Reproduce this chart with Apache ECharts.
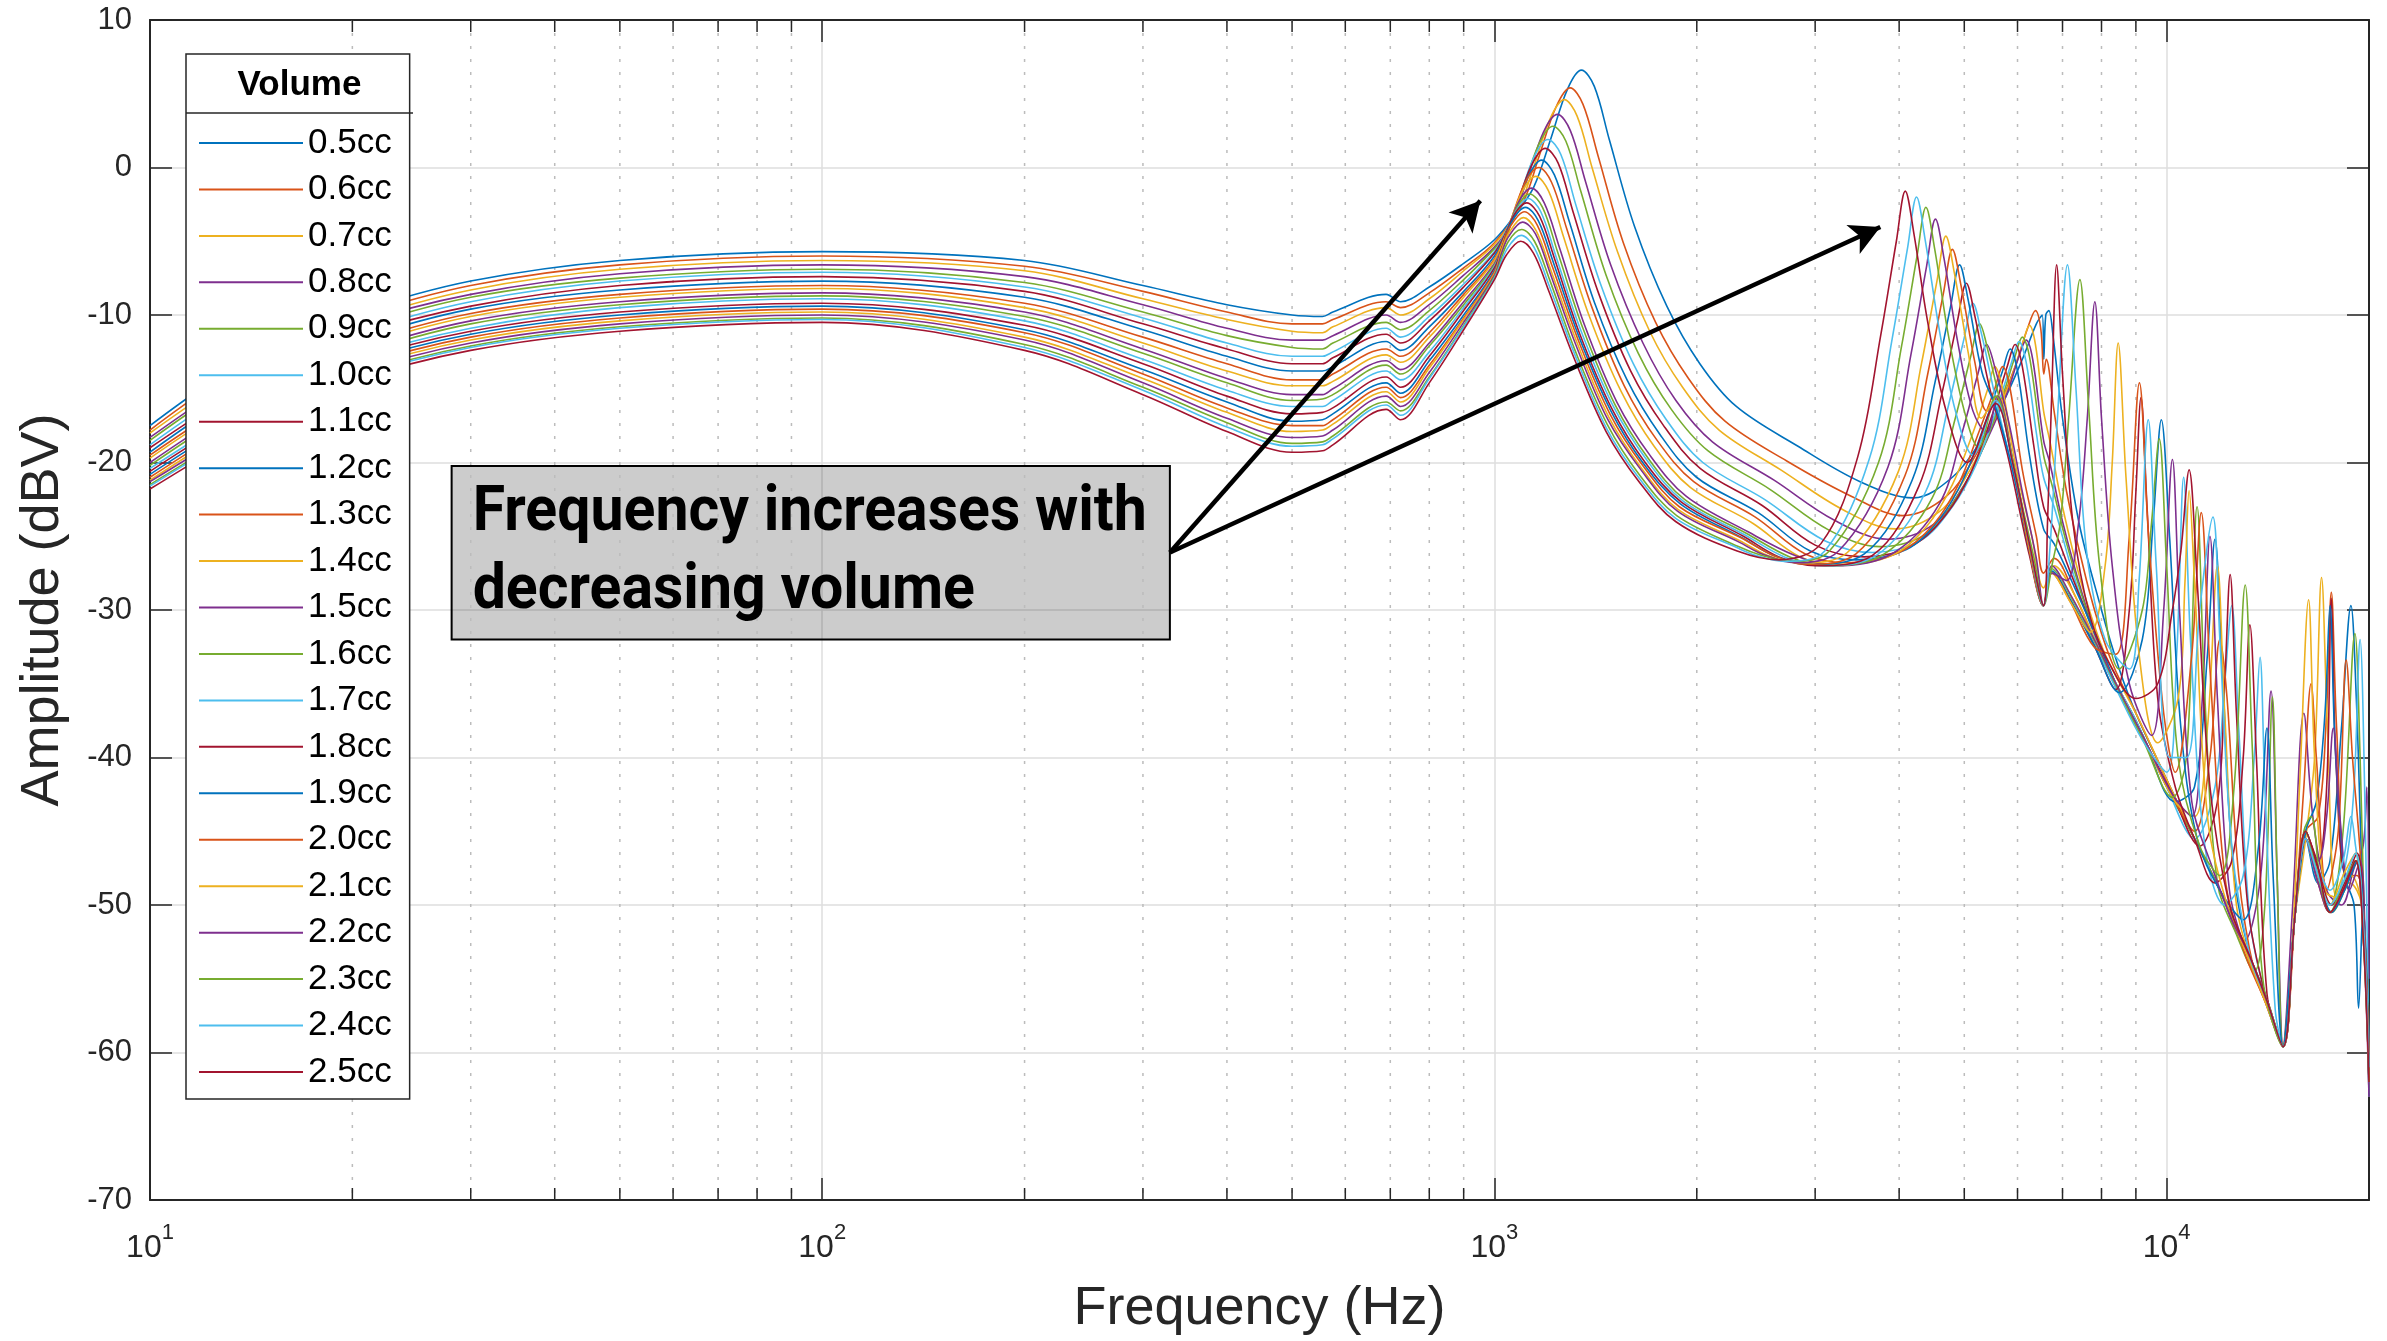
<!DOCTYPE html>
<html>

<head>
    <meta charset="utf-8">
    <title>Volume sweep</title>
    <style>
        html, body { margin: 0; padding: 0; background: #fff; }
        #main { width: 2387px; height: 1341px; }
    </style>
</head>

<body>
    <div id="main"></div>
    <script src="https://cdn.jsdelivr.net/npm/echarts@6.0.0/dist/echarts.min.js"></script>
    <script>
    // legend names and MATLAB default colour order
    var volumes = ['0.5cc', '0.6cc', '0.7cc', '0.8cc', '0.9cc', '1.0cc', '1.1cc', '1.2cc', '1.3cc', '1.4cc', '1.5cc',
        '1.6cc', '1.7cc', '1.8cc', '1.9cc', '2.0cc', '2.1cc', '2.2cc', '2.3cc', '2.4cc', '2.5cc'];
    var colors = ['#0072BD', '#D95319', '#EDB120', '#7E2F8E', '#77AC30', '#4DBEEE', '#A2142F'];

    // shared low frequency points (Hz)
    var lowFreq = [10, 12, 15, 20, 30, 50, 100, 200, 300, 400, 500, 555, 575, 690, 725, 800, 900];

    // amplitude (dBV) at lowFreq, one list per volume
    var lo05 = [-17.5, -14.9, -12.2, -9.9, -7.7, -6.3, -5.7, -6.3, -8.0, -9.3, -10.0, -10.1, -9.8, -8.6, -9.1, -8.1, -6.5];
    var lo06 = [-17.8, -15.2, -12.5, -10.2, -8.0, -6.6, -6.0, -6.7, -8.4, -9.8, -10.6, -10.6, -10.3, -9.1, -9.5, -8.5, -6.8];
    var lo07 = [-18.0, -15.5, -12.8, -10.5, -8.3, -6.9, -6.3, -7.0, -8.9, -10.3, -11.1, -11.2, -10.8, -9.5, -10.0, -8.9, -7.0];
    var lo08 = [-18.3, -15.8, -13.1, -10.7, -8.6, -7.2, -6.6, -7.4, -9.3, -10.9, -11.7, -11.7, -11.4, -10.0, -10.5, -9.3, -7.3];
    var lo09 = [-18.5, -16.0, -13.4, -11.0, -8.8, -7.5, -6.9, -7.8, -9.8, -11.4, -12.2, -12.3, -11.9, -10.5, -11.0, -9.7, -7.6];
    var lo10 = [-18.8, -16.3, -13.6, -11.3, -9.1, -7.7, -7.1, -8.1, -10.2, -11.9, -12.8, -12.8, -12.5, -10.9, -11.5, -10.1, -7.9];
    var lo11 = [-19.0, -16.6, -13.9, -11.5, -9.4, -8.0, -7.4, -8.4, -10.6, -12.3, -13.3, -13.3, -12.9, -11.3, -11.9, -10.4, -8.1];
    var lo12 = [-19.3, -16.8, -14.2, -11.8, -9.6, -8.3, -7.7, -8.8, -11.0, -12.8, -13.8, -13.8, -13.5, -11.8, -12.4, -10.8, -8.4];
    var lo13 = [-19.5, -17.1, -14.5, -12.1, -9.9, -8.6, -8.0, -9.2, -11.5, -13.3, -14.4, -14.4, -14.0, -12.3, -12.8, -11.2, -8.6];
    var lo14 = [-19.7, -17.3, -14.7, -12.3, -10.1, -8.8, -8.2, -9.5, -11.9, -13.8, -14.8, -14.8, -14.5, -12.7, -13.2, -11.5, -8.8];
    var lo15 = [-20.0, -17.6, -15.0, -12.6, -10.4, -9.1, -8.5, -9.8, -12.3, -14.3, -15.4, -15.4, -15.0, -13.1, -13.7, -11.9, -9.1];
    var lo16 = [-20.2, -17.8, -15.2, -12.8, -10.6, -9.3, -8.7, -10.1, -12.6, -14.6, -15.8, -15.7, -15.4, -13.4, -14.0, -12.1, -9.3];
    var lo17 = [-20.4, -18.1, -15.4, -13.0, -10.9, -9.5, -8.9, -10.4, -13.0, -15.1, -16.2, -16.2, -15.8, -13.8, -14.4, -12.5, -9.5];
    var lo18 = [-20.6, -18.3, -15.7, -13.2, -11.1, -9.8, -9.2, -10.7, -13.3, -15.5, -16.7, -16.6, -16.3, -14.2, -14.9, -12.8, -9.7];
    var lo19 = [-20.8, -18.5, -15.9, -13.4, -11.3, -10.0, -9.4, -11.0, -13.7, -15.9, -17.2, -17.1, -16.7, -14.6, -15.3, -13.1, -10.0];
    var lo20 = [-21.0, -18.7, -16.1, -13.6, -11.5, -10.2, -9.6, -11.2, -14.0, -16.3, -17.5, -17.5, -17.1, -14.9, -15.6, -13.4, -10.2];
    var lo21 = [-21.2, -18.9, -16.3, -13.8, -11.7, -10.4, -9.8, -11.5, -14.3, -16.6, -17.9, -17.8, -17.4, -15.2, -15.9, -13.6, -10.3];
    var lo22 = [-21.3, -19.1, -16.5, -14.0, -11.9, -10.6, -10.0, -11.7, -14.6, -17.0, -18.3, -18.2, -17.8, -15.5, -16.2, -13.9, -10.5];
    var lo23 = [-21.5, -19.3, -16.7, -14.2, -12.1, -10.8, -10.2, -12.0, -14.9, -17.3, -18.7, -18.6, -18.2, -15.9, -16.5, -14.2, -10.7];
    var lo24 = [-21.6, -19.4, -16.8, -14.3, -12.2, -10.9, -10.3, -12.2, -15.1, -17.6, -18.9, -18.8, -18.4, -16.1, -16.8, -14.3, -10.8];
    var lo25 = [-21.8, -19.6, -17.0, -14.5, -12.4, -11.1, -10.5, -12.4, -15.4, -17.9, -19.3, -19.2, -18.8, -16.4, -17.1, -14.6, -11.0];

    // [frequency (Hz), amplitude (dBV)] from 1 kHz up, one list per volume
    var hi05 = [[1000,-4.9],[1078,-3.1],[1145,-1.3],[1212,1.9],[1284,5.3],[1347,6.6],[1408,5.5],[1482,1.9],[1616,-4.0],[1805,-9.4],[2021,-13.3],[2290,-16.2],[2829,-18.9],[3500,-21.3],[4200,-22.4],[4800,-21.0],[5300,-18.5],[5700,-16.0],[6100,-13.0],[6400,-10.6],[6530,-10.0],[6565,-13.0],[6610,-10.0],[6680,-9.7],[6780,-11.5],[7000,-17],[7400,-24],[8000,-30],[8500,-34],[9000,-37],[10000,-41.5],[11000,-45.5],[12000,-49],[13000,-52.5],[14000,-56],[14900,-59.5],[15500,-51],[16100,-45.5],[16800,-48.5],[17500,-47],[18200,-38],[18800,-29.7],[19150,-36],[19500,-47],[19800,-54],[20000,-62]];
    var hi06 = [[1000,-5.1],[1102,-2.4],[1166,0.8],[1235,4.1],[1296,5.4],[1354,4.3],[1426,0.8],[1555,-5.1],[1737,-10.5],[1944,-14.3],[2203,-17.2],[2722,-19.9],[3400,-22.3],[4050,-23.6],[4700,-22.3],[5200,-19.5],[5600,-16.5],[5950,-13.5],[6200,-11.0],[6380,-9.7],[6500,-11.0],[6565,-14],[6620,-13],[6800,-16.5],[7100,-22],[7600,-28],[8200,-33],[9000,-37],[10000,-41.5],[11000,-45.5],[12000,-49],[13000,-52.5],[14000,-56],[14900,-59.5],[15500,-51],[16100,-45],[16800,-44],[17250,-38],[17580,-28.8],[17900,-38],[18500,-48],[19200,-48],[19700,-52],[20000,-61]];
    var hi07 = [[1000,-5.2],[1080,-3.1],[1143,0.0],[1210,3.3],[1270,4.6],[1327,3.5],[1397,0.0],[1524,-5.7],[1702,-11.1],[1905,-14.9],[2159,-17.8],[2667,-20.5],[3300,-23.2],[3950,-24.5],[4600,-23.3],[5100,-20.5],[5500,-17.5],[5850,-14.5],[6100,-12.0],[6250,-10.7],[6380,-12.0],[6560,-16.5],[6700,-18.5],[7000,-23],[7500,-28.5],[8100,-33],[9000,-37],[10000,-41.5],[11000,-45.5],[12000,-49],[13000,-52.5],[14000,-56],[14900,-59.5],[15500,-51],[16100,-45.5],[16600,-40],[17000,-27.8],[17350,-38],[17900,-49.5],[18700,-48.5],[19500,-50],[20000,-63]];
    var hi08 = [[1000,-5.4],[1055,-3.9],[1117,-0.9],[1183,2.4],[1241,3.6],[1297,2.5],[1365,-0.9],[1489,-6.6],[1663,-11.9],[1862,-15.8],[2110,-18.6],[2606,-21.2],[3200,-23.9],[3850,-25.2],[4500,-24.2],[5000,-21.5],[5400,-18.5],[5800,-15.2],[6030,-12.8],[6180,-11.7],[6320,-13.0],[6560,-18.5],[6700,-20],[7000,-24],[7500,-29],[8100,-33.5],[9000,-37.5],[10000,-42],[11000,-45.5],[12000,-49],[13000,-52.5],[13800,-48],[14300,-35.5],[14600,-48],[14900,-59.5],[15400,-50],[16000,-37],[16500,-44],[17300,-49],[18200,-50],[19000,-47.5],[19600,-46],[19850,-42],[20000,-55]];
    var hi09 = [[1000,-5.5],[1039,-4.5],[1100,-1.6],[1165,1.6],[1222,2.8],[1277,1.8],[1344,-1.6],[1466,-7.3],[1637,-12.6],[1833,-16.4],[2077,-19.2],[2566,-21.8],[3150,-24.6],[3750,-25.7],[4400,-24.8],[4900,-22.2],[5300,-19.3],[5700,-15.5],[5950,-12.8],[6100,-11.5],[6250,-12.8],[6560,-19.5],[6750,-21.5],[7100,-25.5],[7600,-30],[8200,-34],[9000,-37.5],[10000,-42],[11000,-45.5],[12000,-49],[13000,-52.5],[14000,-56],[14900,-59.5],[15500,-51],[16100,-45.5],[16800,-48.5],[17500,-50],[18300,-45],[19060,-31.6],[19400,-40],[19700,-52],[20000,-62]];
    var hi10 = [[1000,-5.7],[1040,-4.3],[1081,-2.5],[1145,0.7],[1201,1.9],[1255,0.9],[1321,-2.5],[1441,-8.0],[1609,-13.3],[1802,-17.1],[2042,-20.0],[2522,-22.5],[3100,-25.3],[3650,-26.1],[4300,-25.3],[4800,-23],[5200,-20.2],[5600,-16.2],[5880,-13.2],[6030,-11.8],[6180,-13.2],[6400,-18],[6560,-21],[6800,-23],[7200,-27],[7700,-31],[8300,-34.5],[9000,-37.5],[10000,-42],[11000,-45.5],[11800,-42],[12200,-35],[12500,-29.7],[12800,-38],[13300,-51],[14000,-56],[14900,-59.5],[15500,-51],[16100,-45.5],[16800,-48.5],[17600,-50],[18500,-47],[19000,-42],[19400,-32],[19700,-42],[20000,-60]];
    var hi11 = [[1000,-5.8],[1035,-4.6],[1071,-3.0],[1134,0.1],[1190,1.3],[1244,0.3],[1309,-3.0],[1428,-8.5],[1595,-13.8],[1785,-17.5],[2023,-20.4],[2499,-22.9],[3000,-25.6],[3550,-26.4],[4200,-25.6],[4700,-23.5],[5100,-20.8],[5500,-16.8],[5800,-13.4],[5950,-12.0],[6100,-13.5],[6350,-19],[6560,-23],[6800,-24.5],[7200,-27.5],[7800,-31.5],[8400,-35],[9200,-38.5],[10200,-42.5],[11200,-46],[11900,-43],[12200,-35],[12430,-27.6],[12700,-37],[13200,-50],[14000,-56],[14900,-59.5],[15500,-51],[16100,-45],[16800,-47],[17300,-42],[17580,-29.2],[17850,-40],[18500,-48],[19300,-47],[19700,-52],[20000,-61]];
    var hi12 = [[1000,-6.0],[1058,-3.7],[1120,-0.7],[1175,0.5],[1228,-0.5],[1293,-3.7],[1410,-9.2],[1575,-14.4],[1763,-18.1],[1998,-21.0],[2468,-23.4],[2950,-26.0],[3450,-26.6],[4100,-25.9],[4600,-23.8],[5000,-21],[5400,-17],[5700,-13.8],[5850,-12.3],[6000,-13.8],[6250,-19.5],[6560,-24.5],[6800,-25.5],[7300,-28.5],[7900,-32],[8500,-35.5],[9300,-39],[10300,-43],[11000,-42],[11500,-33],[11800,-25.2],[12100,-34],[12600,-48],[13500,-54.5],[14200,-57],[14900,-59.5],[15500,-51],[16100,-45],[16700,-43],[17200,-37],[17500,-29.7],[17800,-39],[18400,-48],[19000,-50],[19300,-57],[19600,-50],[20000,-60]];
    var hi13 = [[1000,-6.2],[1048,-4.1],[1109,-1.1],[1164,0.0],[1216,-1.0],[1280,-4.1],[1397,-9.5],[1560,-14.8],[1746,-18.5],[1979,-21.3],[2444,-23.7],[2900,-26.2],[3350,-26.8],[4000,-26.1],[4500,-24.2],[4900,-21.5],[5250,-18],[5550,-15],[5700,-13.5],[5850,-15],[6100,-20.5],[6400,-25],[6560,-27.5],[6800,-26.5],[7300,-29],[7900,-32.5],[8500,-35.5],[9300,-39],[10300,-43],[11000,-45],[11600,-40],[12000,-32],[12300,-36],[12800,-48],[13500,-54.5],[14200,-57],[14900,-59.5],[15500,-51],[16000,-42],[16400,-35],[16700,-40],[17300,-49],[18000,-45],[18500,-33.4],[18900,-40],[19500,-48],[20000,-62]];
    var hi14 = [[1000,-6.3],[1037,-4.7],[1098,-1.7],[1152,-0.6],[1204,-1.6],[1267,-4.7],[1382,-10.0],[1544,-15.2],[1728,-18.9],[1958,-21.7],[2419,-24.1],[2850,-26.4],[3250,-26.9],[3900,-26.3],[4400,-24.3],[4800,-21.5],[5150,-18],[5420,-15],[5550,-13.5],[5700,-15],[5950,-20],[6300,-25],[6560,-28.5],[6800,-27],[7300,-29],[7900,-32.5],[8500,-35.5],[9300,-39],[10300,-43],[11000,-44],[11500,-38],[11900,-27],[12200,-37],[12700,-50],[13500,-54.5],[14200,-57],[14900,-59.5],[15400,-52],[15800,-41],[16260,-29.3],[16600,-40],[17200,-49],[18000,-49.5],[18800,-48],[19500,-50],[20000,-63]];
    var hi15 = [[1000,-6.5],[1040,-4.8],[1082,-2.5],[1135,-1.4],[1186,-2.4],[1249,-5.4],[1362,-10.7],[1521,-15.9],[1703,-19.5],[1930,-22.3],[2384,-24.7],[2800,-26.3],[3200,-27.0],[3900,-26.2],[4590,-22.8],[4968,-17.9],[5238,-14.0],[5400,-12.0],[5562,-13.7],[5832,-17.4],[6100,-22],[6400,-26.5],[6560,-29.7],[6750,-27],[7200,-29],[7800,-32],[8400,-35],[9200,-38.5],[10200,-42.5],[10900,-44],[11300,-36],[11600,-25],[11900,-36],[12400,-49],[13200,-53.5],[14000,-56.5],[14900,-59.6],[15500,-51],[16100,-45.5],[16800,-47],[17300,-44],[17700,-38],[18100,-44],[18700,-49],[19400,-47],[19800,-55],[20000,-62]];
    var hi16 = [[1000,-6.6],[1040,-4.9],[1075,-2.9],[1128,-1.8],[1179,-2.7],[1241,-5.7],[1354,-10.9],[1512,-16.1],[1692,-19.7],[1918,-22.5],[2369,-24.8],[2750,-26.4],[3100,-27.0],[3800,-26.2],[4480,-22.4],[4848,-17.0],[5112,-12.8],[5270,-10.6],[5428,-12.5],[5692,-16.5],[6000,-21.5],[6350,-26.5],[6560,-29.7],[6750,-27.2],[7200,-29.2],[7800,-32.2],[8400,-35.2],[9200,-38.7],[10200,-42.7],[10700,-40],[11100,-23],[11400,-36],[11900,-48.5],[12700,-52],[13500,-54.5],[14000,-50],[14370,-35.9],[14600,-48],[14900,-59.6],[15500,-51],[16000,-45],[16400,-44],[17000,-49],[17600,-50.5],[18400,-49],[19200,-47],[19700,-52],[20000,-61]];
    var hi17 = [[1000,-6.7],[1035,-5.0],[1069,-3.2],[1122,-2.1],[1172,-3.0],[1234,-6.0],[1346,-11.1],[1503,-16.2],[1683,-19.8],[1907,-22.6],[2356,-24.9],[2700,-26.4],[3050,-27.0],[3700,-26.3],[4378,-22.0],[4738,-16.1],[4996,-11.6],[5150,-9.2],[5305,-11.3],[5562,-15.6],[5900,-20.5],[6300,-26.5],[6560,-29.7],[6750,-27.3],[7200,-29.3],[7800,-32.3],[8400,-35.3],[9200,-38.8],[10000,-41],[10350,-33],[10600,-21],[10850,-32],[11400,-46],[12200,-50],[13000,-48],[13500,-40],[13770,-33.2],[14000,-42],[14500,-57],[14900,-59.6],[15500,-51],[16100,-45],[16800,-47.5],[17500,-49],[18300,-47],[18800,-44],[19100,-46],[19600,-50],[20000,-62]];
    var hi18 = [[1000,-6.8],[1030,-5.2],[1064,-3.4],[1117,-2.4],[1167,-3.3],[1229,-6.2],[1340,-11.3],[1497,-16.4],[1676,-20.0],[1899,-22.7],[2346,-25.0],[2650,-26.4],[3000,-27.0],[3650,-26.3],[4280,-21.6],[4632,-15.3],[4884,-10.4],[5035,-7.85],[5186,-10.1],[5438,-14.7],[5800,-19.5],[6250,-26.3],[6560,-29.7],[6750,-27.4],[7200,-29.4],[7800,-32.4],[8400,-35.4],[8800,-30],[9000,-22],[9160,-15.6],[9350,-23],[9700,-36],[10300,-42],[11000,-45.5],[11800,-48.5],[12500,-47],[13000,-40],[13300,-31],[13600,-40],[14100,-56],[14900,-59.6],[15500,-51],[16100,-45],[16800,-47.5],[17600,-50],[18400,-48.5],[19200,-46.5],[19700,-52],[20000,-62]];
    var hi19 = [[1000,-7.0],[1030,-5.3],[1060,-3.7],[1112,-2.7],[1162,-3.6],[1223,-6.4],[1334,-11.4],[1490,-16.5],[1668,-20.1],[1890,-22.8],[2335,-25.1],[2600,-26.3],[2950,-26.9],[3550,-26.2],[4182,-21.2],[4526,-14.5],[4772,-9.4],[4920,-6.6],[5068,-9.0],[5314,-13.9],[5570,-16.3],[5900,-20.5],[6250,-26],[6560,-29.7],[6750,-27.4],[7200,-29.4],[7800,-32.4],[8500,-35.6],[9200,-32],[9550,-24],[9820,-17.1],[10100,-25],[10500,-38],[11100,-45.5],[12000,-49],[13000,-51],[13700,-46],[14100,-38],[14400,-48],[14900,-59.6],[15500,-51],[16100,-45.5],[16800,-48],[17600,-50.5],[18400,-49],[19200,-47],[19700,-53],[20000,-63]];
    var hi20 = [[1000,-7.1],[1028,-5.4],[1056,-4.0],[1108,-3.0],[1158,-3.9],[1219,-6.7],[1330,-11.6],[1485,-16.7],[1662,-20.2],[1884,-23.0],[2327,-25.1],[2600,-26.3],[2900,-26.9],[3450,-26.2],[4080,-20.9],[4416,-13.9],[4656,-8.5],[4800,-5.55],[4944,-8.0],[5184,-13.2],[5400,-16.5],[5600,-15.8],[5900,-20],[6250,-26],[6560,-29.7],[6750,-27.5],[7200,-29.5],[7800,-32.5],[8400,-33],[8800,-25],[9110,-14.6],[9400,-25],[9900,-37],[10300,-41],[10900,-33],[11260,-23.4],[11600,-34],[12200,-48],[13000,-53],[14000,-56.5],[14900,-59.6],[15500,-51],[16100,-45.5],[16800,-48.5],[17500,-50.5],[18300,-49],[19100,-47],[19600,-51],[20000,-60]];
    var hi21 = [[1000,-7.2],[1025,-5.6],[1052,-4.4],[1104,-3.4],[1154,-4.3],[1214,-7.0],[1325,-11.8],[1479,-16.9],[1656,-20.4],[1877,-23.2],[2318,-25.3],[2550,-26.3],[2850,-26.8],[3350,-26.1],[3990,-20.6],[4318,-13.3],[4553,-7.7],[4694,-4.65],[4835,-7.2],[5070,-12.6],[5300,-17],[5600,-15.5],[5900,-19.8],[6250,-25.8],[6560,-29.7],[6750,-27.5],[7200,-29.5],[7700,-31.5],[8100,-27],[8300,-20],[8470,-11.9],[8700,-21],[9100,-33],[9700,-39],[10400,-36],[10650,-28],[10800,-21.9],[11000,-28],[11500,-44],[12300,-50],[13200,-53.5],[14000,-56.5],[14900,-59.6],[15500,-51],[16100,-45.5],[16800,-48],[17500,-50],[18300,-48],[19100,-46.5],[19600,-52],[20000,-62]];
    var hi22 = [[1000,-7.3],[1025,-5.8],[1049,-4.7],[1101,-3.7],[1151,-4.5],[1211,-7.2],[1321,-12.0],[1475,-17.1],[1652,-20.5],[1872,-23.3],[2312,-25.4],[2500,-26.2],[2800,-26.8],[3250,-26.0],[3850,-20.3],[4168,-12.6],[4394,-6.7],[4530,-3.5],[4666,-6.2],[4892,-11.9],[5150,-16.5],[5400,-18],[5600,-15.5],[5900,-19.8],[6250,-25.6],[6560,-29.7],[6750,-27.5],[7100,-28],[7400,-24],[7620,-17],[7820,-9.1],[8000,-17],[8300,-27],[8800,-35],[9500,-38.5],[9900,-30],[10200,-19.8],[10450,-30],[10900,-43],[11700,-47.5],[12500,-51],[13300,-53.5],[14100,-56.5],[14900,-59.6],[15500,-51],[16100,-45.5],[16800,-48.5],[17500,-50.5],[18300,-49],[19100,-47],[19600,-52],[20000,-63]];
    var hi23 = [[1000,-7.4],[1046,-5.1],[1098,-4.2],[1147,-5.0],[1208,-7.6],[1318,-12.4],[1471,-17.4],[1647,-20.9],[1867,-23.6],[2306,-25.7],[2500,-26.3],[2750,-26.7],[3150,-26.0],[3727,-20.0],[4034,-12.1],[4253,-6.0],[4385,-2.7],[4517,-5.5],[4736,-11.4],[5000,-16.5],[5250,-19],[5570,-15.5],[5900,-19.8],[6250,-25.5],[6560,-29.7],[6750,-27],[6950,-24],[7150,-17],[7430,-7.6],[7650,-16],[7950,-27],[8500,-34],[9200,-30],[9500,-24],[9750,-18.4],[10000,-27],[10400,-40],[11200,-46],[12000,-48],[12600,-42],[13090,-28.3],[13400,-39],[13900,-55],[14900,-59.6],[15500,-51],[16100,-45],[16800,-48],[17500,-50.5],[18300,-48.5],[19100,-47],[19600,-52],[20000,-62]];
    var hi24 = [[1000,-7.5],[1045,-5.5],[1096,-4.6],[1145,-5.4],[1206,-8.0],[1315,-12.6],[1469,-17.7],[1644,-21.1],[1863,-23.8],[2302,-25.8],[2450,-26.3],[2700,-26.7],[3100,-26.0],[3609,-19.8],[3906,-11.6],[4119,-5.4],[4246,-2.0],[4373,-4.9],[4586,-10.9],[4850,-16.5],[5150,-19.5],[5570,-15.8],[5900,-20],[6250,-25.5],[6560,-29.7],[6700,-26],[6880,-17],[7120,-6.6],[7330,-15],[7600,-26],[8100,-32],[8800,-34],[9100,-28],[9390,-17.1],[9650,-27],[10100,-40],[10700,-40],[11200,-30],[11720,-23.7],[12000,-32],[12500,-46],[13300,-53.5],[14100,-56.5],[14900,-59.6],[15500,-51],[16100,-45.5],[16800,-48],[17500,-50],[18300,-48.5],[19100,-46.5],[19600,-51],[20000,-61]];
    var hi25 = [[1000,-7.6],[1043,-5.9],[1094,-5.0],[1143,-5.8],[1203,-8.3],[1313,-12.9],[1466,-17.9],[1641,-21.3],[1860,-24.0],[2297,-26.0],[2650,-26.6],[3060,-25.5],[3472,-19.6],[3758,-11.3],[3962,-5.0],[4085,-1.6],[4208,-4.5],[4412,-10.5],[4698,-16.5],[5050,-20.0],[5570,-16.0],[5900,-20],[6250,-25.5],[6560,-29.7],[6650,-24],[6750,-15],[6860,-6.6],[7000,-14],[7250,-24],[7700,-30.5],[8300,-34],[9000,-36],[9700,-35],[10200,-30],[10500,-26],[10800,-20.5],[11100,-28],[11600,-42],[12400,-50],[13300,-53.5],[14100,-56.5],[14900,-59.6],[15500,-51],[16100,-45],[16800,-47.5],[17500,-50.5],[18300,-49],[19100,-47],[19600,-52],[20000,-62]];

    // minor log ticks / dotted grid
    var minorFreqs = [20, 30, 40, 50, 60, 70, 80, 90, 200, 300, 400, 500, 600, 700, 800, 900,
        2000, 3000, 4000, 5000, 6000, 7000, 8000, 9000];

    // annotation: text box corners and arrows, in data units
    var noteLines = ['Frequency increases with', 'decreasing volume'];
    var noteBox = [[28.1, -20.24], [329, -32.0]];
    var arrowStart = [329, -26.1];
    var arrowEnds = [[953, -2.25], [3750, -4.03]];

    var lows = [lo05, lo06, lo07, lo08, lo09, lo10, lo11, lo12, lo13, lo14, lo15, lo16, lo17, lo18, lo19, lo20, lo21, lo22, lo23, lo24, lo25];
    var highs = [hi05, hi06, hi07, hi08, hi09, hi10, hi11, hi12, hi13, hi14, hi15, hi16, hi17, hi18, hi19, hi20, hi21, hi22, hi23, hi24, hi25];

    var FONT = "'Liberation Sans', Arial, Helvetica, sans-serif";
    var NOTE_FONT = 'bold 63px Roboto, "DejaVu Sans", sans-serif';
    var AXIS_COLOR = '#262626';

    var chart = echarts.init(document.getElementById('main'), null, { renderer: 'canvas' });

    var series = volumes.map(function(name, i) {
        var pts = lowFreq.map(function(f, k) { return [f, lows[i][k]]; }).concat(highs[i]);
        return {
            name: name,
            type: 'line',
            data: pts,
            symbol: 'none',
            smooth: 0.35,
            silent: true,
            z: 3,
            color: colors[i % colors.length],
            lineStyle: { width: 1.6, color: colors[i % colors.length] }
        };
    });

    // dotted minor grid plus short minor ticks on bottom and top
    series.push({
        type: 'custom',
        silent: true,
        z: 1,
        data: minorFreqs.map(function(f) { return [f, -70]; }),
        encode: { x: 0, y: 1 },
        renderItem: function(params, api) {
            var f = api.value(0);
            var top = api.coord([f, 10]);
            var bot = api.coord([f, -70]);
            return {
                type: 'group',
                children: [{
                    type: 'line',
                    shape: { x1: top[0], y1: top[1], x2: bot[0], y2: bot[1] },
                    style: { stroke: '#bcbcbc', lineWidth: 1.5, lineDash: [3, 10] }
                }, {
                    type: 'line',
                    shape: { x1: bot[0], y1: bot[1], x2: bot[0], y2: bot[1] - 12 },
                    style: { stroke: AXIS_COLOR, lineWidth: 1.5 }
                }, {
                    type: 'line',
                    shape: { x1: top[0], y1: top[1], x2: top[0], y2: top[1] + 12 },
                    style: { stroke: AXIS_COLOR, lineWidth: 1.5 }
                }]
            };
        }
    });

    // annotation box and arrows
    series.push({
        name: 'note',
        type: 'line',
        data: [],
        z: 5,
        silent: true,
        markArea: {
            silent: true,
            itemStyle: { color: 'rgba(0,0,0,0.2)', borderColor: '#000', borderWidth: 2 },
            label: { show: false },
            data: [[{ coord: noteBox[0] }, { coord: noteBox[1] }]]
        },
        markLine: {
            silent: true,
            symbol: ['none', 'arrow'],
            symbolSize: [24, 30],
            label: { show: false },
            lineStyle: { color: '#000', width: 4.5, type: 'solid' },
            data: arrowEnds.map(function(e) {
                return [{ coord: arrowStart }, { coord: e }];
            })
        }
    });

    function isPow10(v) {
        var e = Math.log10(v);
        return Math.abs(e - Math.round(e)) < 1e-6;
    }

    var option = {
        animation: false,
        backgroundColor: '#fff',
        grid: { left: 150, right: 18, top: 20, bottom: 141 },
        legend: {
            orient: 'vertical',
            left: 186,
            top: 54,
            data: volumes,
            icon: 'rect',
            itemWidth: 104,
            itemHeight: 2,
            itemGap: 11.45,
            itemTextGap: 13,
            padding: [71.5, 18, 9.5, 13],
            backgroundColor: '#fff',
            borderColor: AXIS_COLOR,
            borderWidth: 1.5,
            borderRadius: 0,
            selectedMode: false,
            z: 10,
            textStyle: { fontSize: 35, lineHeight: 35, color: '#000', fontFamily: FONT }
        },
        graphic: [{
            type: 'line',
            z: 100,
            shape: { x1: 186, y1: 113, x2: 413, y2: 113 },
            style: { stroke: AXIS_COLOR, lineWidth: 1.5 }
        }, {
            type: 'text',
            z: 100,
            x: 299.5,
            y: 85,
            style: {
                text: 'Volume',
                fill: '#000',
                font: 'bold 35px ' + FONT,
                align: 'center',
                verticalAlign: 'middle'
            }
        }],
        xAxis: [{
            type: 'log',
            logBase: 10,
            min: 10,
            max: 20000,
            name: 'Frequency (Hz)',
            nameLocation: 'middle',
            nameGap: 82,
            nameTextStyle: { fontSize: 54, color: AXIS_COLOR, fontFamily: FONT },
            axisLine: { onZero: false, lineStyle: { color: AXIS_COLOR, width: 2 } },
            axisTick: { inside: true, length: 22, lineStyle: { color: AXIS_COLOR, width: 1.5 } },
            splitLine: { show: true, lineStyle: { color: '#dedede', width: 1.5 } },
            axisLabel: {
                margin: 22,
                color: AXIS_COLOR,
                fontFamily: FONT,
                formatter: function(v) {
                    if (!isPow10(v)) return '';
                    return '{b|10}{s|' + Math.round(Math.log10(v)) + '}';
                },
                rich: {
                    b: { fontSize: 32, lineHeight: 52, fontFamily: FONT, color: AXIS_COLOR },
                    s: { fontSize: 22, verticalAlign: 'top', fontFamily: FONT, color: AXIS_COLOR }
                }
            }
        }, {
            type: 'log',
            logBase: 10,
            min: 10,
            max: 20000,
            position: 'top',
            axisLine: { onZero: false, lineStyle: { color: AXIS_COLOR, width: 2 } },
            axisTick: { inside: true, length: 22, lineStyle: { color: AXIS_COLOR, width: 1.5 } },
            axisLabel: { show: false },
            splitLine: { show: false }
        }],
        yAxis: [{
            type: 'value',
            min: -70,
            max: 10,
            interval: 10,
            name: 'Amplitude (dBV)',
            nameLocation: 'middle',
            nameGap: 80,
            nameTextStyle: { fontSize: 54, color: AXIS_COLOR, fontFamily: FONT },
            axisLine: { show: true, onZero: false, lineStyle: { color: AXIS_COLOR, width: 2 } },
            axisTick: { show: true, inside: true, length: 22, lineStyle: { color: AXIS_COLOR, width: 1.5 } },
            axisLabel: { fontSize: 31, margin: 18, color: AXIS_COLOR, fontFamily: FONT },
            splitLine: { show: true, lineStyle: { color: '#dedede', width: 1.5 } }
        }, {
            type: 'value',
            min: -70,
            max: 10,
            interval: 10,
            position: 'right',
            axisLine: { show: true, onZero: false, lineStyle: { color: AXIS_COLOR, width: 2 } },
            axisTick: { show: true, inside: true, length: 22, lineStyle: { color: AXIS_COLOR, width: 1.5 } },
            axisLabel: { show: false },
            splitLine: { show: false }
        }],
        series: series
    };

    chart.setOption(option);

    // annotation text: place it inside the box using the axis scales,
    // squeeze it horizontally to the condensed width of the original lettering
    var boxTL = chart.convertToPixel({ gridIndex: 0 }, noteBox[0]);
    var boxBR = chart.convertToPixel({ gridIndex: 0 }, noteBox[1]);
    var ctx = document.createElement('canvas').getContext('2d');
    ctx.font = NOTE_FONT;
    var textW = ctx.measureText(noteLines[0]).width;
    var targetW = (boxBR[0] - boxTL[0]) - 44;
    chart.setOption({
        graphic: [{
            type: 'text',
            id: 'note-text',
            z: 120,
            x: boxTL[0] + 21,
            y: (boxTL[1] + boxBR[1]) / 2,
            scaleX: targetW / textW,
            style: {
                text: noteLines.join('\n'),
                font: NOTE_FONT,
                fill: '#000',
                lineHeight: 78,
                align: 'left',
                verticalAlign: 'middle'
            }
        }]
    });
    </script>
</body>

</html>
